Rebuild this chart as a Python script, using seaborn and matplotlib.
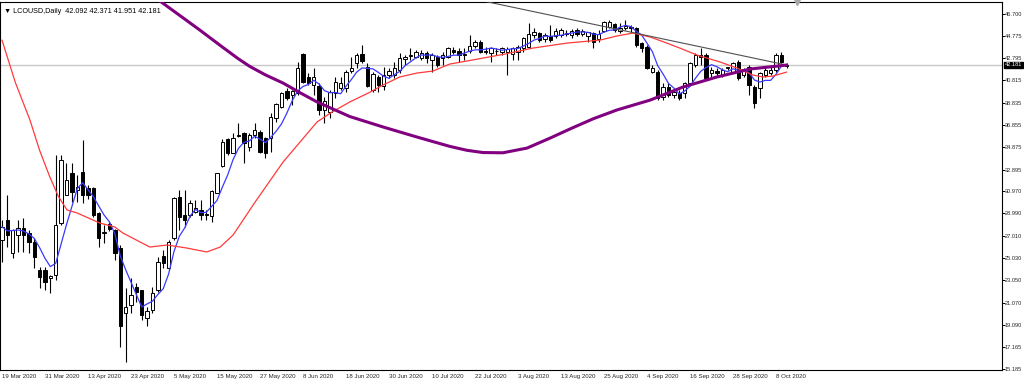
import numpy as np
import pandas as pd
import matplotlib
matplotlib.use("Agg")
import matplotlib.pyplot as plt
import matplotlib.transforms as mtransforms
import seaborn as sns

# Daily LCOUSD candles (19 Mar 2020 .. 12 Oct 2020)
opens = [26.6, 28.4, 25.45, 27.08, 27.67, 27.23, 26.49, 23.97, 23.97, 23.3,
         23.53, 28.11, 30.63, 32.55, 31.07, 32.70, 31.22, 31.22, 29.06, 27.3,
         28.05, 27.52, 25.95, 20.18, 20.86, 22.49, 22.19, 19.68, 20.42, 22.19,
         25.22, 24.12, 26.78, 30.42, 28.85, 28.85, 29.15, 29.3, 28.9, 28.79,
         30.84, 33.20, 35.57, 34.33, 35.9, 36.11, 34.92, 35.95, 36.25, 35.66,
         35.66, 37.43, 38.47, 39.86, 39.51, 39.65, 43.12, 41.13, 40.39, 40.31,
         38.17, 38.03, 39.65, 40.16, 40.10, 41.64, 42.32, 43.12, 42.02, 39.95,
         41.13, 40.33, 41.28, 41.28, 41.73, 42.70, 43.0, 42.91, 42.76, 43.21,
         42.61, 42.91, 42.76, 42.91, 43.50, 43.41, 43.10, 43.41, 43.89, 44.24,
         43.38, 43.21, 43.41, 43.35, 43.30, 43.12, 43.29, 43.65, 43.80, 44.83,
         44.98, 44.48, 44.77, 44.77, 44.83, 44.95, 44.83, 45.28, 44.89, 44.77,
         44.98, 44.48, 45.19, 45.57, 45.78, 45.19, 45.43, 45.50, 45.49, 44.09,
         43.80, 41.52, 41.58, 39.36, 40.25, 39.51, 39.65, 39.65, 40.54, 42.17,
         43.06, 43.06, 41.43, 41.67, 41.28, 41.90, 41.58, 42.47, 41.28, 42.02,
         40.25, 40.10, 41.28, 41.43, 41.73, 43.06, 42.092]
highs = [28.4, 30.6, 27.6, 28.41, 28.56, 27.5, 26.8, 24.27, 24.27, 23.53,
         34.18, 34.18, 33.44, 33.44, 32.41, 35.5, 31.5, 31.3, 29.15, 27.97,
         28.2, 27.6, 26.2, 22.34, 23.3, 22.79, 22.19, 20.71, 22.49, 25.15,
         25.75, 26.63, 30.48, 31.07, 31.07, 30.19, 30.19, 30.19, 29.3, 31.07,
         32.61, 35.57, 35.66, 36.11, 36.99, 36.2, 36.11, 36.99, 36.40, 35.81,
         37.88, 38.77, 39.80, 40.10, 39.95, 42.47, 43.21, 41.43, 41.87, 40.54,
         39.36, 39.95, 41.13, 41.13, 41.73, 42.91, 43.21, 43.95, 42.32, 41.58,
         41.28, 42.02, 41.87, 42.47, 43.21, 43.06, 43.65, 43.50, 43.50, 43.41,
         43.21, 43.06, 43.35, 43.80, 43.80, 43.65, 43.65, 44.83, 44.39, 44.39,
         43.80, 43.80, 43.71, 43.80, 43.80, 43.80, 43.95, 44.69, 45.87, 45.43,
         45.13, 44.98, 45.72, 45.43, 45.43, 45.28, 45.37, 45.43, 45.37, 45.13,
         45.13, 45.28, 46.08, 46.17, 45.87, 45.87, 46.17, 45.72, 45.57, 44.24,
         43.95, 42.17, 41.73, 40.54, 40.54, 39.95, 39.95, 40.69, 42.47, 43.21,
         43.65, 43.21, 42.02, 41.87, 41.87, 42.02, 42.47, 42.61, 41.87, 42.17,
         40.39, 41.58, 42.02, 42.17, 43.21, 43.35, 42.371]
lows = [24.7, 26.0, 25.0, 25.6, 25.6, 25.45, 24.12, 22.34, 22.19, 21.9,
        23.08, 27.97, 30.63, 30.04, 30.04, 29.9, 30.3, 28.7, 26.04, 26.34,
        27.4, 24.86, 17.16, 15.83, 20.12, 21.16, 19.53, 19.0, 20.12, 22.05,
        24.12, 23.97, 26.63, 27.52, 27.82, 28.71, 29.0, 28.41, 28.41, 28.26,
        30.78, 33.15, 34.18, 34.33, 35.8, 33.44, 34.5, 35.66, 34.33, 33.94,
        34.47, 37.14, 38.32, 39.06, 38.62, 39.51, 40.54, 40.39, 39.51, 37.73,
        36.99, 37.43, 39.21, 39.95, 39.80, 41.43, 41.87, 42.32, 40.25, 39.80,
        39.80, 39.95, 40.99, 40.99, 41.43, 42.17, 42.61, 42.76, 42.61, 42.32,
        41.58, 42.02, 42.17, 42.76, 43.12, 42.47, 42.61, 43.21, 43.65, 43.21,
        43.12, 42.47, 43.06, 43.10, 41.28, 42.61, 42.61, 43.35, 43.65, 44.54,
        44.24, 44.24, 44.24, 44.54, 44.69, 44.77, 44.60, 44.77, 44.77, 44.24,
        43.65, 44.24, 45.07, 45.43, 45.13, 44.98, 45.28, 45.13, 43.80, 43.35,
        41.81, 41.43, 39.06, 39.06, 39.36, 39.21, 39.06, 39.21, 40.39, 42.02,
        42.17, 40.84, 41.13, 41.13, 41.13, 41.70, 41.43, 40.84, 41.13, 39.51,
        38.32, 39.21, 41.13, 41.28, 41.58, 42.32, 41.951]
closes = [27.8, 27.1, 27.52, 27.67, 27.08, 26.49, 25.15, 23.38, 22.93, 23.4,
          27.97, 33.74, 31.96, 30.93, 31.37, 30.63, 30.63, 28.85, 26.78, 27.35,
          27.58, 25.45, 19.0, 20.65, 21.75, 22.05, 19.97, 20.36, 21.90, 24.71,
          24.62, 26.49, 30.33, 28.71, 28.41, 29.89, 29.45, 28.85, 28.85, 31.02,
          32.55, 35.37, 34.33, 35.66, 35.96, 35.22, 35.96, 36.40, 34.47, 34.33,
          37.58, 38.68, 39.65, 39.27, 39.86, 41.87, 40.69, 40.54, 41.13, 38.17,
          38.97, 39.74, 40.69, 40.54, 41.52, 41.93, 43.06, 42.52, 40.33, 41.34,
          40.39, 41.28, 41.64, 41.93, 42.82, 42.91, 43.03, 43.35, 43.21, 42.76,
          43.06, 42.17, 43.06, 43.65, 43.29, 43.06, 43.12, 43.89, 44.24, 43.29,
          43.35, 43.65, 43.45, 43.71, 43.60, 43.65, 43.80, 44.54, 44.89, 45.07,
          44.39, 44.83, 44.39, 45.19, 45.28, 44.98, 45.19, 44.89, 45.19, 45.13,
          44.24, 44.89, 46.02, 46.02, 45.28, 45.49, 45.66, 45.47, 43.95, 43.65,
          41.87, 41.87, 39.21, 40.25, 39.51, 39.80, 39.21, 40.54, 42.32, 43.06,
          42.91, 40.99, 41.73, 41.43, 41.73, 42.00, 42.32, 40.99, 41.73, 40.39,
          38.77, 41.43, 41.73, 41.73, 43.06, 42.47, 42.181]

date_labels = ['19 Mar 2020', '31 Mar 2020', '13 Apr 2020', '23 Apr 2020',
               '5 May 2020', '15 May 2020', '27 May 2020', '8 Jun 2020',
               '18 Jun 2020', '30 Jun 2020', '10 Jul 2020', '22 Jul 2020',
               '3 Aug 2020', '13 Aug 2020', '25 Aug 2020', '4 Sep 2020',
               '16 Sep 2020', '28 Sep 2020', '8 Oct 2020']

# slow moving average (red) and long moving average (purple), read at bar positions
red_bar = [0, 2.5, 5.2, 7.0, 8.9, 10.5, 12.1, 14.0, 18.2, 21.0, 22.5, 27.5,
           30.7, 34.4, 38.1, 40.6, 43.0, 47.1, 52.3, 58.6, 61.4, 64.7, 68.5,
           70.9, 74.0, 77.2, 80.2, 83.3, 86.5, 89.5, 93.6, 98.8, 105.1, 111.3,
           114.4, 117.4, 120.6, 123.7, 126.1, 129.3, 133.6, 136.7, 139.7,
           141.6, 143.4, 146]
red_val = [44.39, 40.6, 37.29, 34.6, 32.23, 30.5, 29.30, 29.03, 28.14, 27.79,
           27.25, 26.01, 26.19, 25.92, 25.57, 26.01, 27.08, 30.01, 33.56, 37.11,
           38.0, 38.89, 39.77, 40.40, 41.11, 41.46, 41.64, 42.26, 42.53, 42.79,
           43.15, 43.68, 44.12, 44.39, 44.75, 45.01, 44.66, 44.12, 43.68, 43.06,
           42.44, 41.91, 41.28, 41.11, 41.19, 41.55]
purple_bar = [25.7, 29.4, 33.0, 36.8, 40.5, 43.9, 46.1, 49.0, 52.3, 55.5,
              58.6, 64.7, 70.9, 77.2, 83.3, 86.5, 89.5, 93.2, 97.7, 102.0,
              105.7, 110.0, 114.4, 120.6, 126.7, 133.0, 139.2, 146]
purple_val = [49.14, 47.85, 46.6, 45.28, 43.95, 42.75, 42.05, 41.30, 40.57,
              39.70, 38.90, 37.60, 36.67, 35.78, 34.95, 34.60, 34.40, 34.38,
              34.80, 35.69, 36.50, 37.40, 38.18, 39.06, 40.22, 41.11, 41.82,
              42.17]
trend_bar = [80, 146]
trend_val = [48.82, 42.17]

price_ticks = [46.700, 44.775, 42.795, 40.815, 38.835, 36.855, 34.875, 32.895,
               30.970, 28.990, 27.010, 25.030, 23.050, 21.070, 19.090, 17.165,
               15.185]
last_price = 42.181

sns.set_style("white")
plt.rcParams['font.family'] = ['Liberation Sans', 'DejaVu Sans']

df = pd.DataFrame({'open': opens, 'high': highs, 'low': lows, 'close': closes})
df['bar'] = np.arange(len(df))
df['ma_fast'] = df['close'].rolling(5, min_periods=1).mean()

fig = plt.figure(figsize=(10.24, 3.83), dpi=100)
ax = fig.add_axes([0, 1 - 370 / 383, 1002 / 1024, 368 / 383])

# current price line
ax.axhline(last_price, color='#c8c8c8', lw=1.0, zorder=1)

# candles
up = df['close'] >= df['open']
bottom = np.minimum(df['open'], df['close'])
height = (df['close'] - df['open']).abs().clip(lower=0.05)
ax.vlines(df['bar'], df['low'], df['high'], color='black', lw=0.8, zorder=2)
ax.bar(df['bar'][up], height[up], bottom=bottom[up], width=0.64,
       color='white', edgecolor='black', linewidth=0.7, zorder=3)
ax.bar(df['bar'][~up], height[~up], bottom=bottom[~up], width=0.64,
       color='black', edgecolor='black', linewidth=0.7, zorder=3)

# moving averages and trend line
sns.lineplot(x=df['bar'], y=df['ma_fast'], color='#3a3aff', lw=0.9, ax=ax, zorder=4)
sns.lineplot(x=red_bar, y=red_val, color='#ff3a3a', lw=0.9, ax=ax, zorder=4)
sns.lineplot(x=purple_bar, y=purple_val, color='#800080', lw=2.2, ax=ax, zorder=5)
ax.plot(trend_bar, trend_val, color='#505050', lw=0.8, zorder=4)

ax.set_xlim(-0.37, 186.05)
ax.set_ylim(15.09, 47.77)
ax.set_xlabel('')
ax.set_ylabel('')

for s in ax.spines.values():
    s.set_visible(True)
    s.set_color('black')
    s.set_linewidth(0.8)

ax.yaxis.tick_right()
ax.set_yticks(price_ticks)
ax.set_yticklabels([f'{v:.3f}' for v in price_ticks])
ax.set_xticks(list(range(0, 8 * len(date_labels), 8)))
ax.set_xticklabels(date_labels)
ax.tick_params(axis='y', direction='out', length=1.8, width=0.7,
               labelsize=4.1, color='black', pad=0.3)
ax.tick_params(axis='x', direction='out', length=2.2, width=0.7,
               labelsize=4.4, color='black', pad=0.8)
for lab in ax.get_xticklabels():
    lab.set_ha('left')

# last price box on the price scale
trans = mtransforms.blended_transform_factory(ax.transAxes, ax.transData)
ax.text(1.003, last_price, f'{last_price:.3f}', transform=trans, ha='left',
        va='center', color='white', fontsize=4.1, zorder=10,
        bbox=dict(facecolor='black', edgecolor='black', pad=0.5))

# header and chart shift marker
ax.text(0.004, 0.985, '\u25BC LCOUSD,Daily  42.092 42.371 41.951 42.181',
        transform=ax.transAxes, ha='left', va='top', fontsize=5.2, color='black')
ax.plot([147.9], [47.77], marker='v', color='#a8a8a8', markersize=4,
        clip_on=False, zorder=10)

fig.savefig('out.png', dpi=100, facecolor='white')
